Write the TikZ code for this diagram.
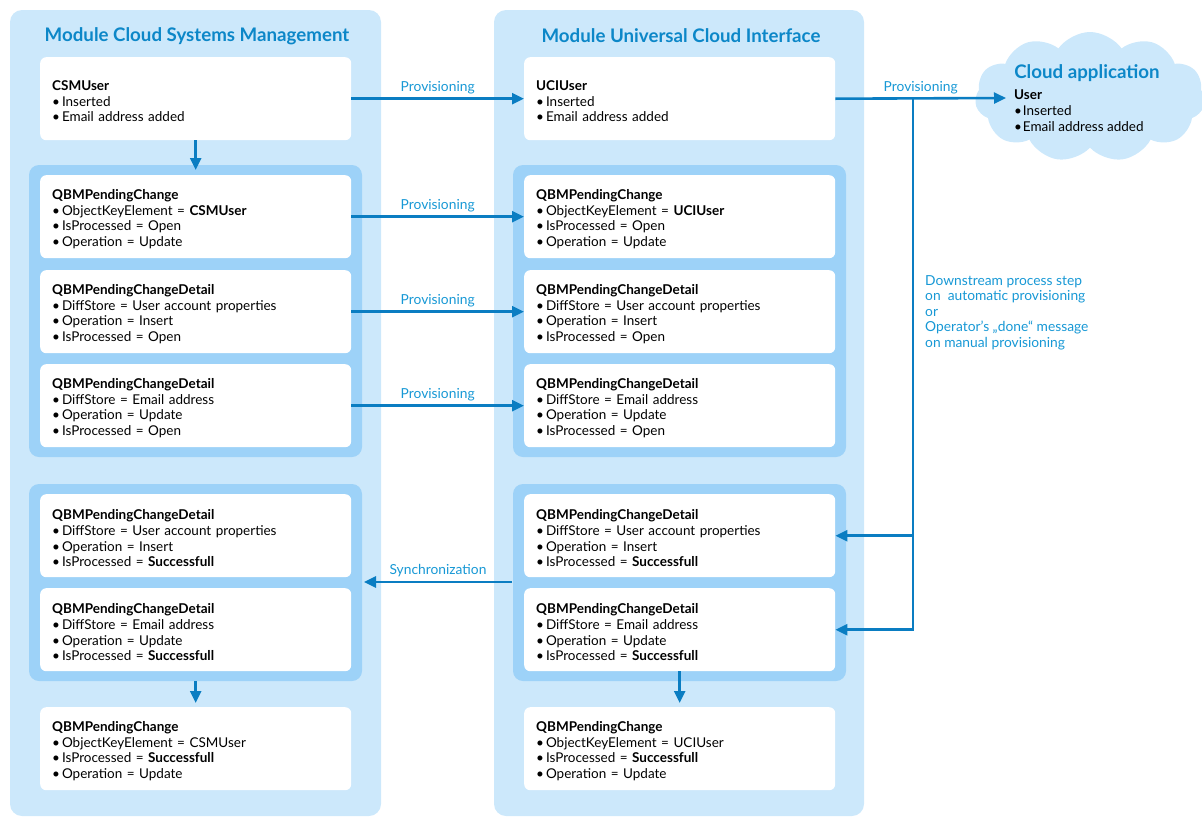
\documentclass[tikz,border=0pt]{standalone}
\usepackage{fontspec}
\setmainfont{Lato}
\usetikzlibrary{arrows.meta,shapes.symbols,positioning}
\definecolor{panelblue}{HTML}{CCE8FB}
\definecolor{groupblue}{HTML}{9DD2F8}
\definecolor{arrowblue}{HTML}{0A7DC2}
\definecolor{lblblue}{HTML}{1798D5}
\definecolor{titleblue}{HTML}{0C87C8}
\newcommand\bu{•\kern-2.5pt\ }
\tikzset{
  panel/.style={fill=panelblue, draw=none, rounded corners=12pt},
  grp/.style={fill=groupblue, draw=none, rounded corners=10pt},
  wbox/.style={fill=white, draw=none, rounded corners=6pt, anchor=north west,
    text width=287pt, inner xsep=12pt, inner ysep=0pt, minimum height=83pt,
    align=left, font=\fontsize{13.5}{15.7}\selectfont, text=black,
    execute at begin node=\rule{0pt}{15pt}},
  arr/.style={draw=arrowblue, line width=2.6pt, -{Triangle[length=12pt,width=11pt]}},
  lbl/.style={text=lblblue, font=\fontsize{13.8}{15.6}\selectfont, inner sep=0pt},
  ttl/.style={text=titleblue, font=\fontsize{18.7}{21}\selectfont\bfseries, inner sep=0pt}
}
\begin{document}
\begin{tikzpicture}[x=1pt,y=-1pt]
\useasboundingbox (0,0) rectangle (1202,817);
% panels
\path[panel] (10,10) rectangle (381,816);
\path[panel] (494,10) rectangle (864,816);
\node[ttl] (t1) at (197,36) {Module Cloud Systems Management};
\node[ttl] (t2) at (681,36) {Module Universal Cloud Interface};
% groups
\path[grp] (29,165) rectangle (362,457);
\path[grp] (29,484) rectangle (362,681);
\path[grp] (513,165) rectangle (846,457);
\path[grp] (513,484) rectangle (846,681);
\coordinate (gL1n) at (197,165);
\coordinate (gL2s) at (197,681);
\coordinate (gL2e) at (364,582);
\coordinate (gR2w) at (512,582);
% left boxes
\node[wbox] (csm) at (40,57) {\textbf{CSMUser}\\\bu Inserted\\\bu Email address added};
\node[wbox] (l1) at (40,175) {\textbf{QBMPendingChange}\\\bu ObjectKeyElement = \textbf{CSMUser}\\\bu IsProcessed = Open\\\bu Operation = Update};
\node[wbox] (l2) at (40,270) {\textbf{QBMPendingChangeDetail}\\\bu DiffStore = User account properties\\\bu Operation = Insert\\\bu IsProcessed = Open};
\node[wbox] (l3) at (40,364) {\textbf{QBMPendingChangeDetail}\\\bu DiffStore = Email address\\\bu Operation = Update\\\bu IsProcessed = Open};
\node[wbox] (l4) at (40,494) {\textbf{QBMPendingChangeDetail}\\\bu DiffStore = User account properties\\\bu Operation = Insert\\\bu IsProcessed = \textbf{Successfull}};
\node[wbox] (l5) at (40,588) {\textbf{QBMPendingChangeDetail}\\\bu DiffStore = Email address\\\bu Operation = Update\\\bu IsProcessed = \textbf{Successfull}};
\node[wbox] (l6) at (40,707) {\textbf{QBMPendingChange}\\\bu ObjectKeyElement = CSMUser\\\bu IsProcessed = \textbf{Successfull}\\\bu Operation = Update};
% right boxes
\node[wbox] (uci) at (524,57) {\textbf{UCIUser}\\\bu Inserted\\\bu Email address added};
\node[wbox] (r1) at (524,175) {\textbf{QBMPendingChange}\\\bu ObjectKeyElement = \textbf{UCIUser}\\\bu IsProcessed = Open\\\bu Operation = Update};
\node[wbox] (r2) at (524,270) {\textbf{QBMPendingChangeDetail}\\\bu DiffStore = User account properties\\\bu Operation = Insert\\\bu IsProcessed = Open};
\node[wbox] (r3) at (524,364) {\textbf{QBMPendingChangeDetail}\\\bu DiffStore = Email address\\\bu Operation = Update\\\bu IsProcessed = Open};
\node[wbox] (r4) at (524,494) {\textbf{QBMPendingChangeDetail}\\\bu DiffStore = User account properties\\\bu Operation = Insert\\\bu IsProcessed = \textbf{Successfull}};
\node[wbox] (r5) at (524,588) {\textbf{QBMPendingChangeDetail}\\\bu DiffStore = Email address\\\bu Operation = Update\\\bu IsProcessed = \textbf{Successfull}};
\node[wbox] (r6) at (524,707) {\textbf{QBMPendingChange}\\\bu ObjectKeyElement = UCIUser\\\bu IsProcessed = \textbf{Successfull}\\\bu Operation = Update};
% cloud
\node[cloud, cloud puffs=11, cloud puff arc=110, aspect=1.9, fill=panelblue, draw=none,
  minimum width=230pt, minimum height=130pt] (cloud) at (1090,97) {};
\node[ttl, anchor=center] (ct) at (1087,73) {Cloud application};
\node[anchor=north west, align=left, inner sep=0pt, font=\fontsize{13.5}{15.7}\selectfont] (cu) at (1014,90)
  {\textbf{User}\\\bu Inserted\\\bu Email address added};
\coordinate (cin) at (1006,98);
\coordinate (jn) at (913,98);
% arrows
\draw[arr] (csm.east) -- node[lbl, midway, yshift=11pt] {Provisioning} (uci.west);
\draw[arr] (l1.east) -- node[lbl, midway, yshift=11pt] {Provisioning} (l1.east -| r1.west);
\draw[arr] (l2.east) -- node[lbl, midway, yshift=11pt] {Provisioning} (l2.east -| r2.west);
\draw[arr] (l3.east) -- node[lbl, midway, yshift=11pt] {Provisioning} (l3.east -| r3.west);
\draw[arr] (uci.east) -- node[lbl, midway, yshift=11pt] {Provisioning} (cin);
\draw[arr] (jn) |- (r4.east);
\draw[arr] (jn) |- (r5.east);
\draw[arr] (gR2w) -- node[lbl, midway, yshift=11pt] {Synchronization} (gL2e);
\draw[arr] (csm.south) -- ([yshift=-5pt]csm.south |- gL1n);
\draw[arr] (l5.south |- gL2s) -- ([yshift=4pt]l6.north);
\draw[arr] (r5.south) -- ([yshift=4pt]r6.north);
\node[lbl, anchor=north west, align=left, font=\fontsize{13.8}{15.6}\selectfont] (ds) at (925,275)
  {Downstream process step\\on\ \ automatic provisioning\\or\\Operator's „done“ message\\on manual provisioning};
\end{tikzpicture}
\end{document}
